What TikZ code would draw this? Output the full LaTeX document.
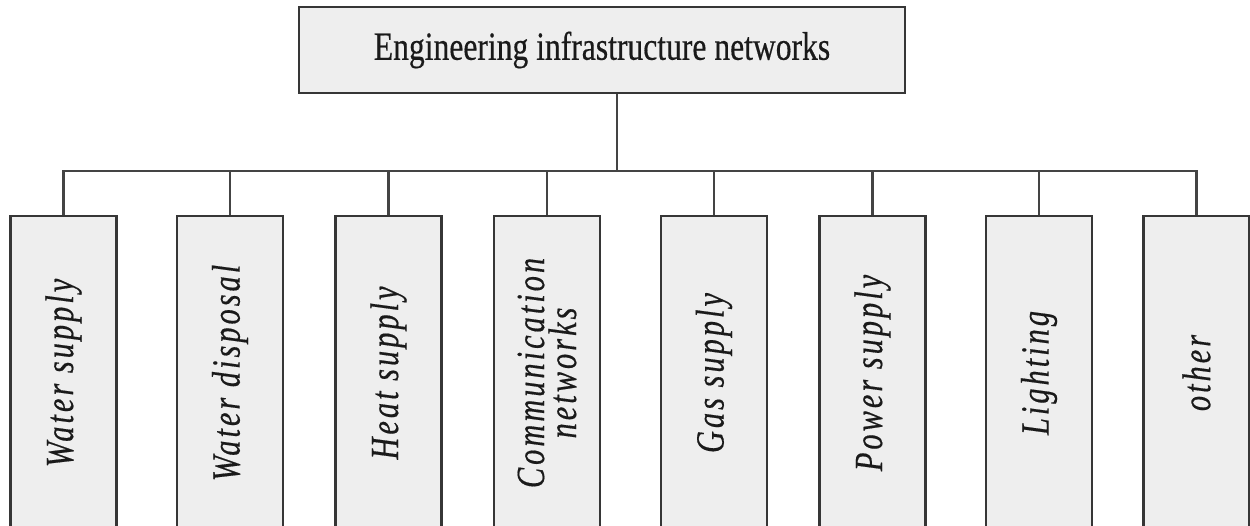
\documentclass[tikz,border=0pt]{standalone}
\usepackage{fontspec}
\setmainfont{Liberation Serif}
\newfontfamily\topf[FakeStretch=0.79,FakeBold=0.4]{Liberation Serif}
\newfontfamily\vertf[FakeStretch=0.76,LetterSpace=7.5,FakeBold=0.4]{Liberation Serif}
\definecolor{boxfill}{HTML}{EEEEEE}
\definecolor{boxline}{HTML}{363636}
\definecolor{wire}{HTML}{444444}
\definecolor{ink}{HTML}{1A1A1A}
\tikzset{
  topbox/.style={draw=boxline, fill=boxfill, line width=2.4pt, minimum width=606pt, minimum height=86pt,
    inner sep=0pt, text=ink, font=\topf\fontsize{40}{42}\selectfont},
  catbox/.style={draw=boxline, fill=boxfill, line width=2.4pt, rotate=90, minimum width=314pt,
    minimum height=106pt, inner sep=0pt, align=center, text=ink,
    font=\vertf\itshape\fontsize{40}{32}\selectfont},
  wireline/.style={draw=wire, line width=2.2pt}
}
\begin{document}
\begin{tikzpicture}[x=1pt,y=-1pt]
\useasboundingbox (0,0) rectangle (1250,526);
\clip (0,0) rectangle (1250,526);
\fill[white] (0,0) rectangle (1250,526);
\coordinate (bus) at (617,171);
\node[topbox] (top) at (602,50) {\raisebox{3pt}{Engineering infrastructure networks}};
\node[catbox] (c1) at (63.5,373) {Water supply};
\node[catbox] (c2) at (230,373) {Water disposal};
\node[catbox] (c3) at (388.5,373) {Heat supply};
\node[catbox] (c4) at (547,373) {Communication\\networks};
\node[catbox] (c5) at (714,373) {Gas supply};
\node[catbox] (c6) at (872.5,373) {Power supply};
\node[catbox] (c7) at (1039,373) {Lighting};
\node[catbox] (c8) at (1196.5,373) {other};
\draw[wireline] (top.south -| bus) -- (bus);
\draw[wireline] (c1.east) -- (c1.east |- bus) -- (c8.east |- bus) -- (c8.east);
\foreach \n in {c2,c3,c4,c5,c6,c7}{
  \draw[wireline] (\n.east) -- (\n.east |- bus);
}
\end{tikzpicture}
\end{document}
